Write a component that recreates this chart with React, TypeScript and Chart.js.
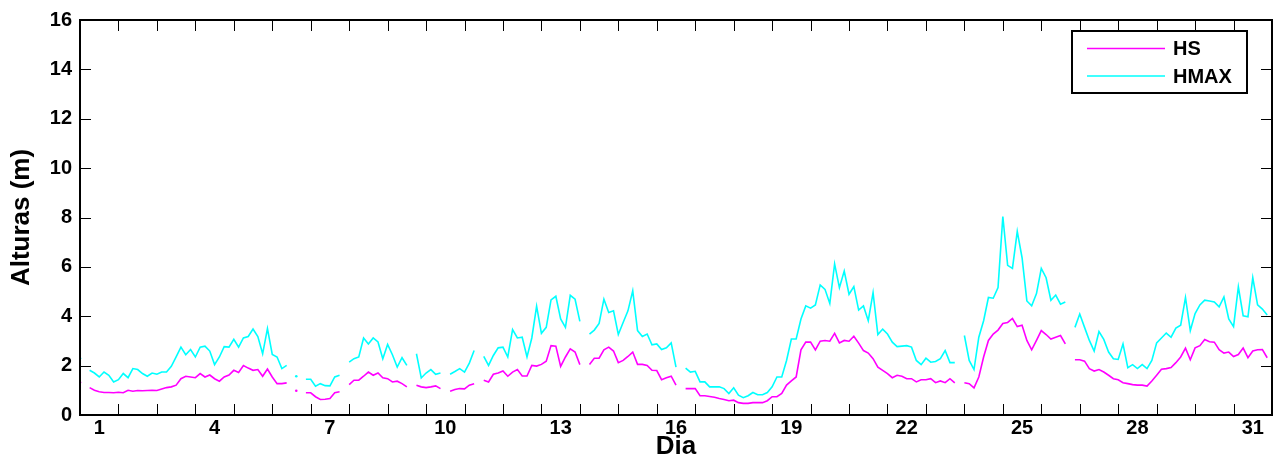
import React, { useEffect, useRef } from 'react';
import { Chart, registerables } from 'chart.js';

Chart.register(...registerables);

const SAMPLES_PER_DAY = 8;
const DAYS_IN_MONTH = 31;
const dayLabels = ['1', '4', '7', '10', '13', '16', '19', '22', '25', '28', '31'];
const yTickStep = 2;
const yMax = 16;

const N = null;

// HMAX (3-hourly samples, null = missing)
const hmaxValues: (number | null)[] = [
  2.30, N,
  1.81, 1.70, 1.54, 1.74, 1.61, 1.34, 1.43, 1.68, 1.51, 1.88,
  1.84, 1.68, 1.57, 1.70, 1.65, 1.74, 1.74, 1.97, 2.35, 2.75,
  2.44, 2.65, 2.35, 2.75, 2.79, 2.59, 2.04, 2.35, 2.77, 2.75,
  3.07, 2.75, 3.12, 3.18, 3.48, 3.18, 2.48, 3.50, 2.45, 2.35,
  1.88, 2.01,
  N, 1.57, N,
  1.45, 1.45, 1.17, 1.27, 1.19, 1.18, 1.54, 1.61,
  N,
  2.14, 2.28, 2.35, 3.12, 2.88, 3.12, 2.96, 2.28, 2.86, 2.44, 1.94, 2.32, 2.01,
  N,
  2.48, 1.50, 1.70, 1.84, 1.65, 1.70,
  N,
  1.65, 1.76, 1.88, 1.74, 2.10, 2.61,
  N,
  2.37, 2.01, 2.41, 2.72, 2.75, 2.35, 3.46, 3.12, 3.15, 2.35,
  3.12, 4.41, 3.31, 3.55, 4.66, 4.81, 3.89, 3.55, 4.85, 4.69, 3.79,
  N,
  3.28, 3.44, 3.71, 4.69, 4.15, 4.22, 3.26, 3.75, 4.22, 5.03,
  3.42, 3.18, 3.28, 2.84, 2.88, 2.65, 2.72, 2.92, 1.94,
  N,
  1.90, 1.74, 1.77, 1.34, 1.34, 1.14, 1.14, 1.14, 1.07, 0.87,
  1.10, 0.80, 0.70, 0.78, 0.91, 0.82, 0.82, 0.91, 1.14, 1.54,
  1.54, 2.21, 3.08, 3.08, 3.89, 4.42, 4.33, 4.46, 5.27, 5.09,
  4.52, 6.12, 5.16, 5.83, 4.89, 5.20, 4.25, 4.42, 3.82, 4.96,
  3.26, 3.48, 3.28, 2.95, 2.77, 2.79, 2.81, 2.75, 2.21, 2.04,
  2.30, 2.14, 2.17, 2.28, 2.61, 2.12, 2.12,
  N,
  3.22, 2.21, 1.84, 3.15, 3.82, 4.76, 4.73, 5.16, 8.04, 6.06,
  5.94, 7.44, 6.37, 4.62, 4.42, 4.92, 5.94, 5.56, 4.65, 4.86,
  4.49, 4.58,
  N,
  3.55, 4.09, 3.55, 3.02, 2.59, 3.38, 3.06, 2.55, 2.28, 2.25,
  2.88, 1.92, 2.04, 1.88, 2.04, 1.88, 2.21, 2.92, 3.12, 3.32,
  3.15, 3.52, 3.64, 4.76, 3.42, 4.11, 4.46, 4.65, 4.62, 4.58,
  4.38, 4.78, 3.89, 3.58, 5.19, 4.02, 3.98, 5.56, 4.46, 4.29,
  4.05,
];

// HS (3-hourly samples, null = missing)
const hsValues: (number | null)[] = [
  1.32, N,
  1.11, 1.00, 0.94, 0.91, 0.91, 0.90, 0.92, 0.90, 1.00, 0.96,
  0.99, 0.98, 0.99, 1.00, 0.99, 1.05, 1.11, 1.14, 1.21, 1.47,
  1.57, 1.54, 1.51, 1.68, 1.54, 1.62, 1.47, 1.37, 1.54, 1.62,
  1.81, 1.72, 2.00, 1.90, 1.81, 1.84, 1.57, 1.86, 1.54, 1.27,
  1.27, 1.30,
  N, 0.98, N,
  0.90, 0.90, 0.74, 0.63, 0.64, 0.67, 0.90, 0.94,
  N,
  1.23, 1.41, 1.41, 1.57, 1.74, 1.61, 1.70, 1.51, 1.47, 1.34, 1.37, 1.27, 1.14,
  N,
  1.21, 1.14, 1.11, 1.14, 1.18, 1.07,
  N,
  0.96, 1.03, 1.07, 1.06, 1.21, 1.27,
  N,
  1.41, 1.34, 1.65, 1.70, 1.78, 1.57, 1.74, 1.84, 1.58, 1.58,
  2.01, 1.98, 2.05, 2.18, 2.81, 2.79, 1.97, 2.35, 2.68, 2.55, 2.04,
  N,
  2.05, 2.30, 2.30, 2.64, 2.75, 2.59, 2.12, 2.21, 2.37, 2.55,
  2.05, 2.05, 2.01, 1.81, 1.80, 1.43, 1.51, 1.57, 1.21,
  N,
  1.07, 1.07, 1.07, 0.78, 0.78, 0.75, 0.72, 0.67, 0.63, 0.58,
  0.60, 0.50, 0.47, 0.47, 0.50, 0.50, 0.50, 0.58, 0.74, 0.74,
  0.87, 1.21, 1.38, 1.54, 2.64, 2.95, 2.95, 2.64, 2.99, 3.02,
  2.99, 3.31, 2.92, 3.02, 2.99, 3.19, 2.91, 2.61, 2.51, 2.28,
  1.94, 1.81, 1.68, 1.51, 1.61, 1.57, 1.47, 1.47, 1.34, 1.43,
  1.43, 1.47, 1.31, 1.38, 1.31, 1.47, 1.30,
  N,
  1.31, 1.27, 1.10, 1.54, 2.35, 3.02, 3.28, 3.44, 3.71, 3.75,
  3.91, 3.58, 3.64, 3.02, 2.64, 3.02, 3.42, 3.26, 3.08, 3.15,
  3.22, 2.88,
  N,
  2.24, 2.24, 2.18, 1.88, 1.78, 1.84, 1.74, 1.61, 1.47, 1.43,
  1.31, 1.27, 1.23, 1.21, 1.21, 1.17, 1.38, 1.61, 1.85, 1.88,
  1.92, 2.12, 2.35, 2.71, 2.24, 2.72, 2.81, 3.06, 2.97, 2.95,
  2.65, 2.51, 2.55, 2.37, 2.45, 2.71, 2.32, 2.59, 2.64, 2.65,
  2.32,
];

const seriesLabels = ['HS', 'HMAX'];
const seriesColors = ['#ff00ff', '#00ffff'];

const FONT = '"Liberation Sans", Arial, Helvetica, sans-serif';

const toPoints = (vals: (number | null)[]) =>
  vals.map((v, i) => ({ x: i / SAMPLES_PER_DAY, y: v }));

const isolatedRadius = (ctx: any) => {
  const d = ctx.dataset.data as { x: number; y: number | null }[];
  const i = ctx.dataIndex;
  if (d[i] == null || d[i].y == null) return 0;
  const prev = i > 0 ? d[i - 1].y : null;
  const next = i < d.length - 1 ? d[i + 1].y : null;
  return prev == null && next == null ? 1.3 : 0;
};

const framePlugin = {
  id: 'matlabFrame',
  afterDatasetsDraw(chart: any) {
    const { ctx, chartArea, scales } = chart;
    const { left, right, top, bottom } = chartArea;
    const tickLen = 11;
    ctx.save();
    // inward tick marks
    ctx.strokeStyle = '#000';
    ctx.lineWidth = 1;
    ctx.beginPath();
    for (let d = 1; d < DAYS_IN_MONTH; d++) {
      const px = Math.round(scales.x.getPixelForValue(d)) + 0.5;
      ctx.moveTo(px, bottom);
      ctx.lineTo(px, bottom - tickLen);
      ctx.moveTo(px, top);
      ctx.lineTo(px, top + tickLen);
    }
    for (let v = yTickStep; v < yMax; v += yTickStep) {
      const py = Math.round(scales.y.getPixelForValue(v)) + 0.5;
      ctx.moveTo(left, py);
      ctx.lineTo(left + tickLen, py);
      ctx.moveTo(right, py);
      ctx.lineTo(right - tickLen, py);
    }
    ctx.stroke();
    // box
    ctx.lineWidth = 2;
    ctx.strokeRect(left, top, right - left, bottom - top);

    // legend
    const boxW = 175;
    const boxH = 62;
    const bx = right - 25 - boxW;
    const by = top + 11;
    ctx.fillStyle = '#fff';
    ctx.fillRect(bx, by, boxW, boxH);
    ctx.lineWidth = 2;
    ctx.strokeStyle = '#000';
    ctx.strokeRect(bx, by, boxW, boxH);
    ctx.font = `bold 20px ${FONT}`;
    ctx.textBaseline = 'middle';
    ctx.textAlign = 'left';
    chart.data.datasets.forEach((ds: any, i: number) => {
      const ly = by + 17.5 + i * 27.5;
      ctx.strokeStyle = ds.borderColor;
      ctx.lineWidth = 1.6;
      ctx.beginPath();
      ctx.moveTo(bx + 15, ly);
      ctx.lineTo(bx + 93, ly);
      ctx.stroke();
      ctx.fillStyle = '#000';
      ctx.fillText(ds.label, bx + 101, ly + 1);
    });
    ctx.restore();
  },
};

export default function App() {
  const canvasRef = useRef<HTMLCanvasElement | null>(null);

  useEffect(() => {
    if (!canvasRef.current) return;
    const chart = new Chart(canvasRef.current, {
      type: 'line',
      data: {
        datasets: [
          {
            label: seriesLabels[0],
            data: toPoints(hsValues) as any,
            borderColor: seriesColors[0],
            backgroundColor: seriesColors[0],
            borderWidth: 1.6,
            pointRadius: isolatedRadius as any,
            pointBorderWidth: 0,
            spanGaps: false,
            tension: 0,
          },
          {
            label: seriesLabels[1],
            data: toPoints(hmaxValues) as any,
            borderColor: seriesColors[1],
            backgroundColor: seriesColors[1],
            borderWidth: 1.6,
            pointRadius: isolatedRadius as any,
            pointBorderWidth: 0,
            spanGaps: false,
            tension: 0,
          },
        ],
      },
      options: {
        animation: false,
        responsive: false,
        events: [],
        layout: { padding: { top: 17, right: 4, left: 0, bottom: 0 } },
        plugins: {
          legend: { display: false },
          tooltip: { enabled: false },
          title: { display: false },
        },
        scales: {
          x: {
            type: 'linear',
            min: 0,
            max: DAYS_IN_MONTH,
            grid: { display: false, drawTicks: false },
            border: { display: false },
            afterBuildTicks: (scale: any) => {
              scale.ticks = dayLabels.map((d) => ({ value: Number(d) - 0.5 }));
            },
            afterFit: (scale: any) => {
              scale.height = 46;
            },
            ticks: {
              autoSkip: false,
              maxRotation: 0,
              padding: 1,
              color: '#000',
              font: { family: FONT, size: 20, weight: 'bold' },
              callback: (v: any) => String(Number(v) + 0.5),
            },
            title: {
              display: true,
              text: 'Dia',
              color: '#000',
              padding: { top: 0, bottom: -1 },
              font: { family: FONT, size: 26, weight: 'bold' },
            },
          },
          y: {
            type: 'linear',
            min: 0,
            max: yMax,
            grid: { display: false, drawTicks: false },
            border: { display: false },
            afterFit: (scale: any) => {
              scale.width = 80;
            },
            ticks: {
              stepSize: yTickStep,
              padding: 8,
              color: '#000',
              font: { family: FONT, size: 20, weight: 'bold' },
            },
            title: {
              display: true,
              text: 'Alturas (m)',
              color: '#000',
              padding: { top: 6, bottom: 0 },
              font: { family: FONT, size: 26, weight: 'bold' },
            },
          },
        },
      } as any,
      plugins: [framePlugin],
    });
    return () => chart.destroy();
  }, []);

  return (
    <div style={{ position: 'absolute', left: 0, top: 0, width: 1276, height: 461, background: '#fff' }}>
      <canvas ref={canvasRef} width={1276} height={461} style={{ display: 'block' }} />
    </div>
  );
}
